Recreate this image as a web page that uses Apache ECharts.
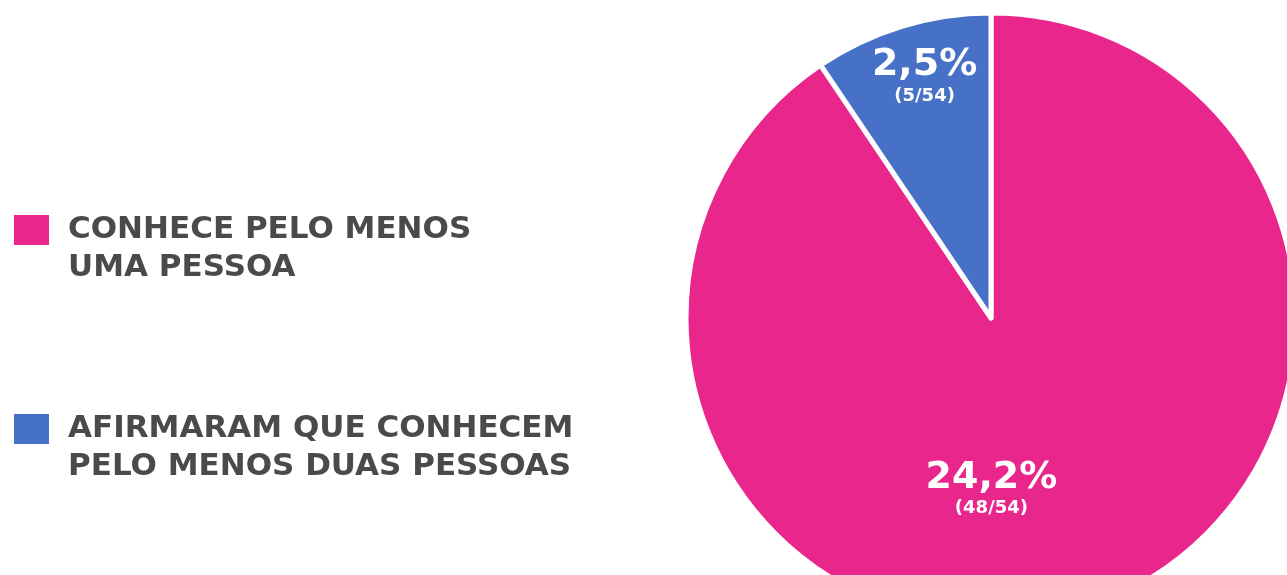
<!DOCTYPE html>
<html>
<head>
<meta charset="utf-8">
<script src="https://cdn.jsdelivr.net/npm/echarts@6/dist/echarts.min.js"></script>
<style>
  html, body { margin: 0; padding: 0; background: #fff; }
  #chart { width: 1287px; height: 575px; }
</style>
</head>
<body>
<div id="chart"></div>
<script>
// dados
const categories = ['CONHECE PELO MENOS\nUMA PESSOA', 'AFIRMARAM QUE CONHECEM\nPELO MENOS DUAS PESSOAS']
const counts = [48, 5]
const percentLabels = ['24,2%', '2,5%']
const fractionLabels = ['(48/54)', '(5/54)']
const colors = ['#e9268c', '#4771c6']

const FONT = 'DejaVu Sans'

const chart = echarts.init(document.getElementById('chart'))

const legendText = {
  color: '#4a4a4a',
  fontFamily: FONT,
  fontWeight: 'bold',
  fontSize: 31,
  lineHeight: 38,
  padding: [0, 0, 0, 13]
}

// linha vazia no topo para o ícone ficar alinhado com a primeira linha
const legendBase = {
  left: 12,
  padding: 0,
  itemWidth: 37,
  itemHeight: 32,
  icon: 'rect',
  selectedMode: false,
  formatter: name => ' \n' + name,
  textStyle: legendText
}

const option = {
  backgroundColor: '#fff',
  animation: false,
  legend: [
    Object.assign({}, legendBase, { top: 173, data: [categories[0]] }),
    Object.assign({}, legendBase, { top: 372, data: [categories[1]] })
  ],
  series: [
    {
      type: 'pie',
      center: [991, 318],
      radius: 305,
      startAngle: 90,
      clockwise: true,
      avoidLabelOverlap: false,
      itemStyle: {
        borderColor: '#fff',
        borderWidth: 5
      },
      label: {
        show: true,
        position: 'inside',
        formatter: p => '{a|' + percentLabels[p.dataIndex] + '}\n{b|' + fractionLabels[p.dataIndex] + '}',
        rich: {
          a: { color: '#fff', fontFamily: FONT, fontWeight: 'bold', fontSize: 38, lineHeight: 40 },
          b: { color: '#fff', fontFamily: FONT, fontWeight: 'bold', fontSize: 18, lineHeight: 22 }
        }
      },
      labelLine: { show: false },
      data: counts.map((v, i) => ({
        name: categories[i],
        value: v,
        itemStyle: { color: colors[i] },
        label: { offset: i === 0 ? [-45, 22] : [-21, -93] }
      }))
    }
  ]
}

chart.setOption(option)
</script>
</body>
</html>
